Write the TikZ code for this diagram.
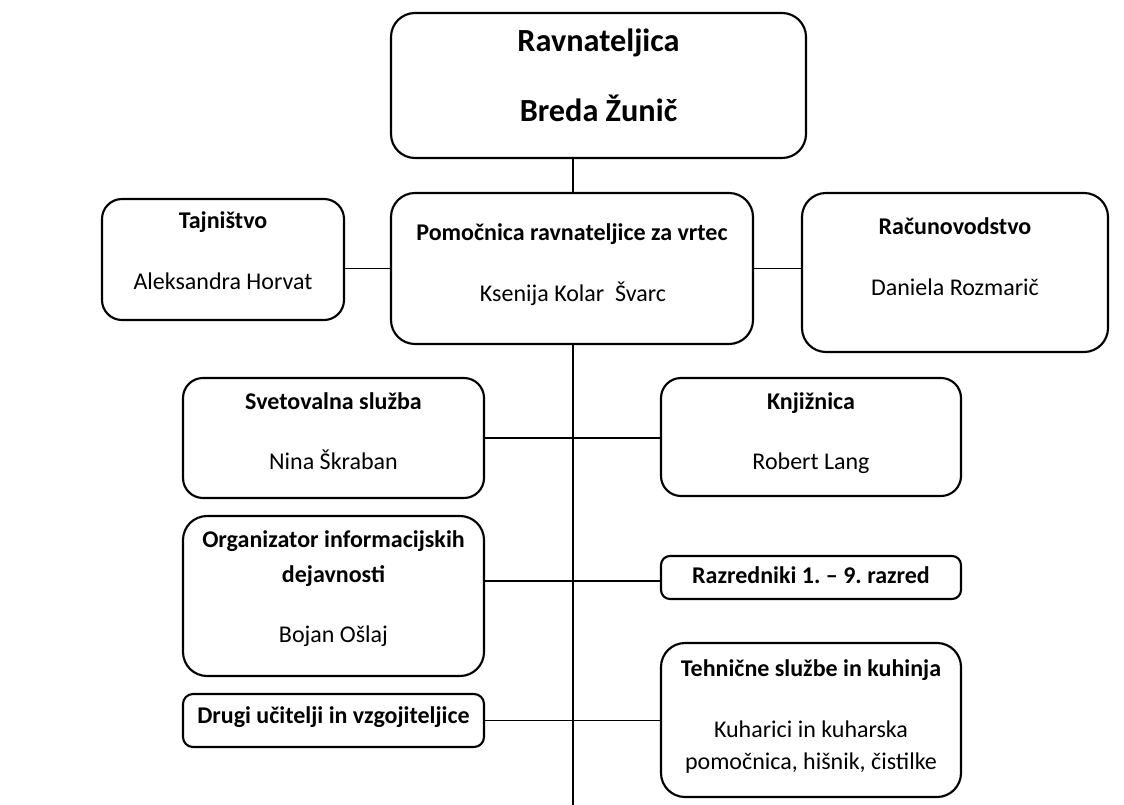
\documentclass[tikz,border=0pt]{standalone}
\usepackage{fontspec}
\setmainfont{Carlito}
\begin{document}
\frenchspacing
\begin{tikzpicture}[x=0.75pt,y=-0.75pt,
  box/.style n args={3}{draw, line width=1.6pt, inner sep=0pt,
    minimum width=#1*0.75pt, minimum height=#2*0.75pt, rounded corners=#3*0.75pt},
  conn/.style={line width=1.4pt},
  txt/.style={anchor=base, inner sep=0pt, font=\fontsize{18}{20}\selectfont},
  txtb/.style={anchor=base, inner sep=0pt, font=\fontsize{18}{20}\selectfont\bfseries},
  txtbig/.style={anchor=base, inner sep=0pt, font=\fontsize{24.2}{28}\selectfont\bfseries}]
\useasboundingbox (0,0) rectangle (1124,805);

% boxes
\node[box={415}{145}{24}] (top) at (598.5,85.5) {};
\node[box={362}{151}{24}] (pom) at (572,268.5) {};
\node[box={242}{121}{20}] (taj) at (223,259.5) {};
\node[box={306}{159}{24}] (rac) at (955,272.5) {};
\node[box={301}{120}{20}] (sv) at (333.5,438) {};
\node[box={300}{118}{20}] (kn) at (811,437) {};
\node[box={301}{160}{24}] (org) at (333.5,596) {};
\node[box={300}{43}{9}] (raz) at (811,577.5) {};
\node[box={301}{53}{10}] (drugi) at (333.5,720.5) {};
\node[box={300}{154}{24}] (teh) at (811,720) {};

% texts
\node[txtbig] (t1) at (598.5,52) {Ravnateljica};
\node[txtbig] (t2) at (598.5,122) {Breda Žunič};
\node[txtb] (t3) at (223,229) {Tajništvo};
\node[txt] (t4) at (223,290) {Aleksandra Horvat};
\node[txtb] (t5) at (572,241) {Pomočnica ravnateljice za vrtec};
\node[txt] (t6) at (573,302) {Ksenija Kolar\ \ Švarc};
\node[txtb] (t7) at (955,235) {Računovodstvo};
\node[txt] (t8) at (955,296) {Daniela Rozmarič};
\node[txtb] (t9) at (333.5,409) {Svetovalna služba};
\node[txt] (t10) at (333.5,469) {Nina Škraban};
\node[txtb] (t11) at (811,409) {Knjižnica};
\node[txt] (t12) at (811,469) {Robert Lang};
\node[txtb] (t13) at (333.5,547) {Organizator informacijskih};
\node[txtb] (t14) at (333.5,582) {dejavnosti};
\node[txt] (t15) at (333.5,642) {Bojan Ošlaj};
\node[txtb] (t16) at (811,583) {Razredniki 1. – 9. razred};
\node[txtb] (t17) at (811,676) {Tehnične službe in kuhinja};
\node[txt] (t18) at (811,737) {Kuharici in kuharska};
\node[txt] (t19) at (811,769) {pomočnica, hišnik, čistilke};
\node[txtb] (t20) at (333.5,723) {Drugi učitelji in vzgojiteljice};

% connectors
\coordinate (bot) at (573,805);
\coordinate (c3) at (573,581);
\draw[conn] (pom.north -| bot) -- (top.south -| bot);
\draw[conn] (pom.west) -- (pom.west -| taj.east);
\draw[conn] (pom.east) -- (pom.east -| rac.west);
\draw[conn] (pom.south -| bot) -- (bot);
\draw[conn] (sv.east) -- (sv.east -| kn.west);
\draw[conn] (org.east |- c3) -- (raz.west |- c3);
\draw[conn] (drugi.east) -- (drugi.east -| teh.west);
\end{tikzpicture}
\end{document}
